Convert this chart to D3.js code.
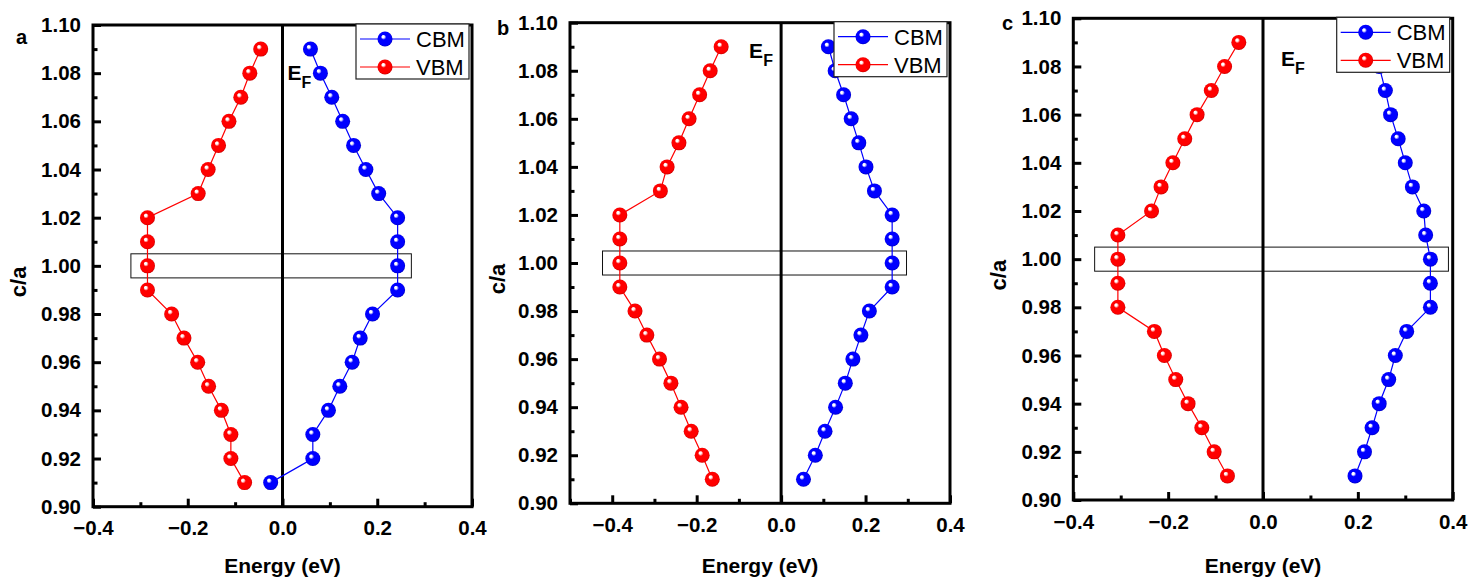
<!DOCTYPE html>
<html>
<head>
<meta charset="utf-8">
<script src="https://cdn.jsdelivr.net/npm/d3@7"></script>
<style>
  html, body { margin: 0; padding: 0; background: #fff; }
  svg { display: block; font-family: "Liberation Sans", Arial, sans-serif; }
</style>
</head>
<body>
<svg id="chart" width="1483" height="584"></svg>
<script>
// ---------- DATA ----------
const caValues = [0.91, 0.92, 0.93, 0.94, 0.95, 0.96, 0.97, 0.98, 0.99, 1.00,
                  1.01, 1.02, 1.03, 1.04, 1.05, 1.06, 1.07, 1.08, 1.09];

const aCBM = [-0.025, 0.064, 0.064, 0.097, 0.121, 0.147, 0.164, 0.190, 0.243, 0.243,
              0.243, 0.243, 0.203, 0.176, 0.150, 0.127, 0.104, 0.080, 0.059];
const aVBM = [-0.080, -0.109, -0.109, -0.129, -0.156, -0.179, -0.208, -0.234, -0.285, -0.285,
              -0.285, -0.285, -0.178, -0.157, -0.135, -0.113, -0.088, -0.069, -0.046];

const bCBM = [0.053, 0.081, 0.104, 0.129, 0.152, 0.170, 0.189, 0.209, 0.263, 0.263,
              0.263, 0.263, 0.221, 0.201, 0.184, 0.166, 0.148, 0.128, 0.112];
const bVBM = [-0.163, -0.187, -0.213, -0.237, -0.261, -0.288, -0.318, -0.346, -0.382, -0.382,
              -0.382, -0.382, -0.286, -0.270, -0.242, -0.218, -0.193, -0.168, -0.142];

const cCBM = [0.194, 0.214, 0.230, 0.245, 0.265, 0.279, 0.303, 0.353, 0.353, 0.353,
              0.343, 0.339, 0.315, 0.300, 0.285, 0.269, 0.258, 0.245, 0.231];
const cVBM = [-0.075, -0.103, -0.129, -0.158, -0.184, -0.208, -0.229, -0.306, -0.306, -0.306,
              -0.306, -0.235, -0.215, -0.190, -0.165, -0.139, -0.109, -0.081, -0.051];

const xTicksMajor = [-0.4, -0.2, 0.0, 0.2, 0.4];
const yTicksMajor = [0.90, 0.92, 0.94, 0.96, 0.98, 1.00, 1.02, 1.04, 1.06, 1.08, 1.10];
const yTicksMinor = [0.91, 0.93, 0.95, 0.97, 0.99, 1.01, 1.03, 1.05, 1.07, 1.09];
const seriesNames = ["CBM", "VBM"];
const panelLabels = ["a", "b", "c"];
const xTitle = "Energy (eV)";
const yTitle = "c/a";
const highlightBand = [0.995, 1.005];

// ---------- LAYOUT ----------
const panels = [
  { label: panelLabels[0], cbm: aCBM, vbm: aVBM, left: 93, right: 472, top: 25, bottom: 506.7,
    xDomain: [-0.4, 0.4], xMinor: [-0.3, -0.1, 0.1, 0.3], rectX: [-0.32, 0.272],
    efDx: 5, efDy: 55, labelX: 16, labelY: 44, yTitleX: 26 },
  { label: panelLabels[1], cbm: bCBM, vbm: bVBM, left: 570, right: 950, top: 22.7, bottom: 503.3,
    xDomain: [-0.5, 0.4], xMinor: [-0.5, -0.3, -0.1, 0.1, 0.3], rectX: [-0.423, 0.297],
    efDx: -32, efDy: 35, labelX: 497, labelY: 35, yTitleX: 505 },
  { label: panelLabels[2], cbm: cCBM, vbm: cVBM, left: 1073.3, right: 1452.7, top: 18.3, bottom: 500,
    xDomain: [-0.4, 0.4], xMinor: [-0.3, -0.1, 0.1, 0.3], rectX: [-0.355, 0.391],
    efDx: 18, efDy: 48, labelX: 1002, labelY: 30, yTitleX: 1006 }
];

const FONT = '"Liberation Sans", Arial, sans-serif';
const colors = { CBM: "#0000ff", VBM: "#ff0000" };
const svg = d3.select("#chart");
const defs = svg.append("defs");

function makeGrad(id, base, dark) {
  const g = defs.append("radialGradient").attr("id", id)
    .attr("cx", "50%").attr("cy", "50%").attr("r", "55%")
    .attr("fx", "36%").attr("fy", "32%");
  g.append("stop").attr("offset", "0%").attr("stop-color", "#ffffff");
  g.append("stop").attr("offset", "14%").attr("stop-color", "#ffffff").attr("stop-opacity", 0.9);
  g.append("stop").attr("offset", "32%").attr("stop-color", base);
  g.append("stop").attr("offset", "80%").attr("stop-color", base);
  g.append("stop").attr("offset", "100%").attr("stop-color", dark);
}
makeGrad("gCBM", "#0000ff", "#0000a8");
makeGrad("gVBM", "#ff0000", "#b00000");

const R = 7.5;

panels.forEach(p => {
  const x = d3.scaleLinear().domain(p.xDomain).range([p.left, p.right]);
  const y = d3.scaleLinear().domain([0.90, 1.10]).range([p.bottom, p.top]);
  const g = svg.append("g");

  // highlight rectangle
  g.append("rect")
    .attr("x", x(p.rectX[0])).attr("y", y(highlightBand[1]))
    .attr("width", x(p.rectX[1]) - x(p.rectX[0]))
    .attr("height", y(highlightBand[0]) - y(highlightBand[1]))
    .attr("fill", "none").attr("stroke", "#111").attr("stroke-width", 1);

  // zero (Fermi) line
  g.append("line")
    .attr("x1", x(0)).attr("x2", x(0)).attr("y1", p.top).attr("y2", p.bottom)
    .attr("stroke", "#000").attr("stroke-width", 3);

  // axes
  const xAxis = d3.axisBottom(x).tickValues(xTicksMajor).tickFormat(d3.format(".1f"))
    .tickSizeInner(-8).tickSizeOuter(0).tickPadding(14);
  const gx = g.append("g").attr("transform", `translate(0,${p.bottom})`).call(xAxis);
  const yAxis = d3.axisLeft(y).tickValues(yTicksMajor).tickFormat(d3.format(".2f"))
    .tickSizeInner(-8).tickSizeOuter(0).tickPadding(12);
  const gy = g.append("g").attr("transform", `translate(${p.left},0)`).call(yAxis);
  [gx, gy].forEach(ax => {
    ax.attr("font-family", FONT);
    ax.select(".domain").remove();
    ax.selectAll(".tick line").attr("stroke", "#000").attr("stroke-width", 3);
    ax.selectAll(".tick text").attr("fill", "#000").style("font-size", "20.5px").style("font-weight", "bold");
  });
  gx.selectAll(".tick text").attr("dy", "0.71em");

  // minor ticks
  const gxm = g.append("g").attr("transform", `translate(0,${p.bottom})`)
    .call(d3.axisBottom(x).tickValues(p.xMinor).tickFormat("").tickSizeInner(-4.5).tickSizeOuter(0));
  const gym = g.append("g").attr("transform", `translate(${p.left},0)`)
    .call(d3.axisLeft(y).tickValues(yTicksMinor).tickFormat("").tickSizeInner(-4.5).tickSizeOuter(0));
  [gxm, gym].forEach(ax => {
    ax.select(".domain").remove();
    ax.selectAll(".tick line").attr("stroke", "#000").attr("stroke-width", 3);
  });

  // frame
  g.append("rect")
    .attr("x", p.left).attr("y", p.top)
    .attr("width", p.right - p.left).attr("height", p.bottom - p.top)
    .attr("fill", "none").attr("stroke", "#000").attr("stroke-width", 3);

  // series
  const series = [{ name: seriesNames[0], vals: p.cbm }, { name: seriesNames[1], vals: p.vbm }];
  const line = d3.line().x(d => x(d[0])).y(d => y(d[1]));
  series.forEach(s => {
    const pts = s.vals.map((v, i) => [v, caValues[i]]);
    g.append("path").datum(pts).attr("d", line)
      .attr("fill", "none").attr("stroke", colors[s.name]).attr("stroke-width", 1.2);
  });
  series.forEach(s => {
    const pts = s.vals.map((v, i) => [v, caValues[i]]);
    g.selectAll(null).data(pts).enter().append("circle")
      .attr("cx", d => x(d[0])).attr("cy", d => y(d[1])).attr("r", R)
      .attr("fill", `url(#g${s.name})`);
  });

  // legend
  const lw = 113, lh = 55;
  const lx = p.right - 3 - lw, ly = p.top - 1;
  const lg = g.append("g");
  lg.append("rect").attr("x", lx).attr("y", ly).attr("width", lw).attr("height", lh)
    .attr("fill", "#fff").attr("stroke", "#222").attr("stroke-width", 1.2);
  series.forEach((s, i) => {
    const cy = ly + 15 + i * 28;
    lg.append("line").attr("x1", lx + 4).attr("x2", lx + 54).attr("y1", cy).attr("y2", cy)
      .attr("stroke", colors[s.name]).attr("stroke-width", 1.2);
    lg.append("circle").attr("cx", lx + 29).attr("cy", cy).attr("r", R).attr("fill", `url(#g${s.name})`);
    lg.append("text").attr("x", lx + 60).attr("y", cy).attr("dy", "0.36em")
      .style("font-size", "22px").attr("fill", "#000").text(s.name);
  });

  // E_F label
  const ef = g.append("text").attr("x", x(0) + p.efDx).attr("y", p.top + p.efDy)
    .style("font-size", "21px").style("font-weight", "bold").attr("fill", "#000");
  ef.append("tspan").text("E");
  ef.append("tspan").attr("dy", 8).style("font-size", "16px").text("F");

  // axis titles
  g.append("text").attr("x", (p.left + p.right) / 2).attr("y", 573)
    .attr("text-anchor", "middle").style("font-size", "21px").style("font-weight", "bold")
    .text(xTitle);
  g.append("text").attr("transform", `translate(${p.yTitleX},${(p.top + p.bottom) / 2 + 16}) rotate(-90)`)
    .attr("text-anchor", "middle").style("font-size", "22px").style("font-weight", "bold")
    .text(yTitle);

  // panel label
  g.append("text").attr("x", p.labelX).attr("y", p.labelY)
    .style("font-size", "20px").style("font-weight", "bold").text(p.label);
});
</script>
</body>
</html>
